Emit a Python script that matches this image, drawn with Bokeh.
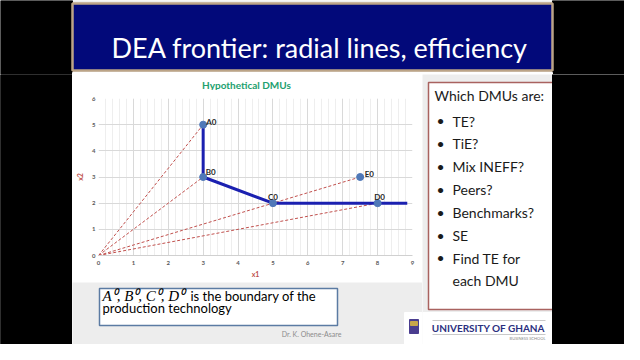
from bokeh.plotting import figure
from bokeh.models import Range1d, SingleIntervalTicker, ColumnDataSource
from bokeh.layouts import row, column
from bokeh.embed import file_html
from bokeh.resources import INLINE
from bokeh.core.properties import value

# ---------------- data ----------------
slide_title = "DEA frontier: radial lines, efficiency"
chart_title = "Hypothetical DMUs"
dmu_names = ["A0", "B0", "C0", "D0", "E0"]
dmu_x1 = [3, 3, 5, 8, 7.5]
dmu_x2 = [5, 3, 2, 2, 3]
frontier_x1 = [3, 3, 5, 8.85]
frontier_x2 = [5, 3, 2, 2]
ray_targets = ["A0", "B0", "E0", "D0"]
x_label = "x1"
y_label = "x2"
questions_head = "Which DMUs are:"
questions = ["TE?", "TiE?", "Mix INEFF?", "Peers?", "Benchmarks?", "SE", "Find TE for\neach DMU"]
note_math = "A\u2070, B\u2070, C\u2070, D\u2070"
note_line1 = " is the boundary of the"
note_line2 = "production technology"
footer = "Dr. K. Ohene-Asare"
logo_text = "UNIVERSITY OF GHANA"
logo_sub = "BUSINESS SCHOOL"

# ---------------- styles ----------------
FONT = "Lato"
SLIDE_BG = "#EDEDED"
NAVY = "#02097A"
TAN = "#BCA487"


def no_align(f):
    try:
        f.frame_align = False
    except Exception:
        pass
    return f


def canvas(x0, x1, y0, y1, bg):
    f = figure(width=x1 - x0, height=y1 - y0,
               x_range=Range1d(x0, x1), y_range=Range1d(y1, y0),
               x_axis_type=None, y_axis_type=None, title=None,
               output_backend="svg", toolbar_location=None, min_border=0)
    f.grid.visible = False
    f.outline_line_color = None
    f.background_fill_color = bg
    f.border_fill_color = bg
    return no_align(f)


# ---- top band (title) ----
top = canvas(8, 632, 8, 82, SLIDE_BG)
top.quad(left=[8, 560], right=[80, 632], top=[8, 8], bottom=[82, 82], color="black")
top.quad(left=[80], right=[560], top=[11], bottom=[78], fill_color=NAVY,
         line_color=TAN, line_width=2.5)
top.quad(left=[80], right=[560], top=[80], bottom=[82], color="white")
top.text(x=[119], y=[55], text=[slide_title], text_color="white",
         text_font=value(FONT), text_font_size="27px", text_baseline="alphabetic")

# ---- black left bar ----
blk = canvas(8, 80, 82, 352, "black")
blk.quad(left=[8], right=[80], top=[82], bottom=[352], color="black")

# ---- chart title strip ----
ct = canvas(80, 430, 82, 98, "white")
ct.text(x=[254], y=[92], text=[chart_title], text_align="center", text_baseline="middle",
        text_color="#22A06E", text_font=value(FONT), text_font_size="10px",
        text_font_style="bold")

# ---- chart ----
p = figure(width=350, height=192, x_range=Range1d(0, 9), y_range=Range1d(0, 6),
           title=None, output_backend="svg", toolbar_location=None,
           min_border_left=26, min_border_right=10, min_border_top=8, min_border_bottom=27)
no_align(p)
p.background_fill_color = "white"
p.border_fill_color = "white"
p.outline_line_color = None

xt = SingleIntervalTicker(interval=1, num_minor_ticks=5)
yt = SingleIntervalTicker(interval=1)
p.xaxis.ticker = xt
p.yaxis.ticker = yt
p.xgrid.ticker = xt
p.ygrid.ticker = yt
p.grid.grid_line_color = "#D9D9D9"
p.xgrid.minor_grid_line_color = "#EEEEEE"
for ax in (p.xaxis, p.yaxis):
    ax.major_tick_line_color = None
    ax.minor_tick_line_color = None
    ax.major_tick_out = 0
    ax.major_tick_in = 0
    ax.minor_tick_out = 0
    ax.minor_tick_in = 0
    ax.major_label_text_font = FONT
    ax.major_label_text_font_size = "6px"
    ax.major_label_text_color = "#595959"
    ax.major_label_text_font_style = "bold"
    ax.axis_label_text_font = FONT
    ax.axis_label_text_font_size = "7px"
    ax.axis_label_text_color = "#C0504D"
    ax.axis_label_text_font_style = "bold"
p.xaxis.axis_line_color = "#D0D0D0"
p.yaxis.axis_line_color = None
p.xaxis.major_label_standoff = 5
p.yaxis.major_label_standoff = 3
p.xaxis.axis_label = x_label
p.yaxis.axis_label = y_label
p.xaxis.axis_label_standoff = 2
p.yaxis.axis_label_standoff = 5

lookup = dict(zip(dmu_names, zip(dmu_x1, dmu_x2)))
rays = ColumnDataSource(dict(
    x0=[0] * len(ray_targets), y0=[0] * len(ray_targets),
    x1=[lookup[n][0] for n in ray_targets], y1=[lookup[n][1] for n in ray_targets]))
p.segment(x0="x0", y0="y0", x1="x1", y1="y1", source=rays,
          line_color="#C0504D", line_width=1, line_dash="3 2")
p.line(frontier_x1, frontier_x2, line_color="#1B20B0", line_width=3)
p.scatter(dmu_x1, dmu_x2, size=7, fill_color="#4F78B8", line_color="#4F78B8")

label_style = {  # (x_offset, y_offset, align)
    "A0": (3, -3, "left"), "B0": (2.5, -5, "left"), "C0": (0, -6, "center"),
    "D0": (2, -6, "center"), "E0": (4.5, -3.5, "left")}
for n, xv, yv in zip(dmu_names, dmu_x1, dmu_x2):
    dx, dy, al = label_style[n]
    p.text(x=[xv], y=[yv], text=[n], x_offset=dx, y_offset=dy, text_align=al,
           text_baseline="middle", text_font=value(FONT), text_font_size="8px",
           text_font_style="bold", text_color="#262626")

# ---- bottom left (note box + footer) ----
bl = canvas(80, 430, 290, 352, SLIDE_BG)
bl.quad(left=[107], right=[345], top=[296], bottom=[333], fill_color="white",
        line_color="#5B7BA3", line_width=1.5)
bl.text(x=[110], y=[303], text=[note_math], text_font=value("Liberation Serif"),
        text_font_style="italic", text_font_size="15px", text_baseline="middle",
        text_color="black")
bl.text(x=[198], y=[303], text=[note_line1], text_font=value(FONT),
        text_font_size="13px", text_baseline="middle", text_color="black")
bl.text(x=[110], y=[315], text=[note_line2], text_font=value(FONT),
        text_font_size="13px", text_baseline="middle", text_color="black")
bl.text(x=[319], y=[341], text=[footer], text_align="center", text_font=value(FONT),
        text_font_size="7px", text_baseline="middle", text_color="#8C8C8C")
bl.quad(left=[412], right=[430], top=[320], bottom=[352], color="white")
bl.quad(left=[417], right=[426], top=[327], bottom=[341], color="#4A3D8F")
bl.quad(left=[418], right=[425], top=[329], bottom=[333], color="#C8A64B")

# ---- right (question panel + logo + black bar) ----
rt = canvas(430, 632, 82, 352, SLIDE_BG)
rt.quad(left=[436], right=[566], top=[90], bottom=[317], fill_color="white",
        line_color="#A9625F", line_width=1.5)
rt.quad(left=[430], right=[560], top=[320], bottom=[352], color="white")
rt.segment(x0=[440, 440], y0=[328, 342], x1=[553, 553], y1=[328, 342],
           line_color="#BBBBBB", line_width=0.8)
rt.text(x=[496], y=[335], text=[logo_text], text_align="center", text_baseline="middle",
        text_font=value(FONT), text_font_size="10px", text_font_style="bold",
        text_color="#2B2F80")
rt.text(x=[553], y=[346], text=[logo_sub], text_align="right", text_baseline="middle",
        text_font=value(FONT), text_font_size="4px", text_color="#888888")
rt.text(x=[442], y=[103], text=[questions_head], text_baseline="middle",
        text_font=value(FONT), text_font_size="14px", text_color="#1A1A1A")
qy = [128 + 22.9 * i for i in range(len(questions))]
rt.text(x=[448] * len(questions), y=qy, text=["\u2022"] * len(questions),
        text_align="center", text_baseline="middle", text_font=value(FONT),
        text_font_size="14px", text_color="#1A1A1A")
rt.text(x=[460] * len(questions), y=qy, text=questions, text_baseline="top",
        y_offset=-8, text_line_height=1.3,
        text_font=value(FONT), text_font_size="14px", text_color="#1A1A1A")
rt.quad(left=[560], right=[632], top=[82], bottom=[352], color="black")

layout = column(top,
                row(blk, column(ct, p, bl, spacing=0), rt, spacing=0),
                spacing=0)

open("out.html", "w").write(file_html(layout, INLINE))
